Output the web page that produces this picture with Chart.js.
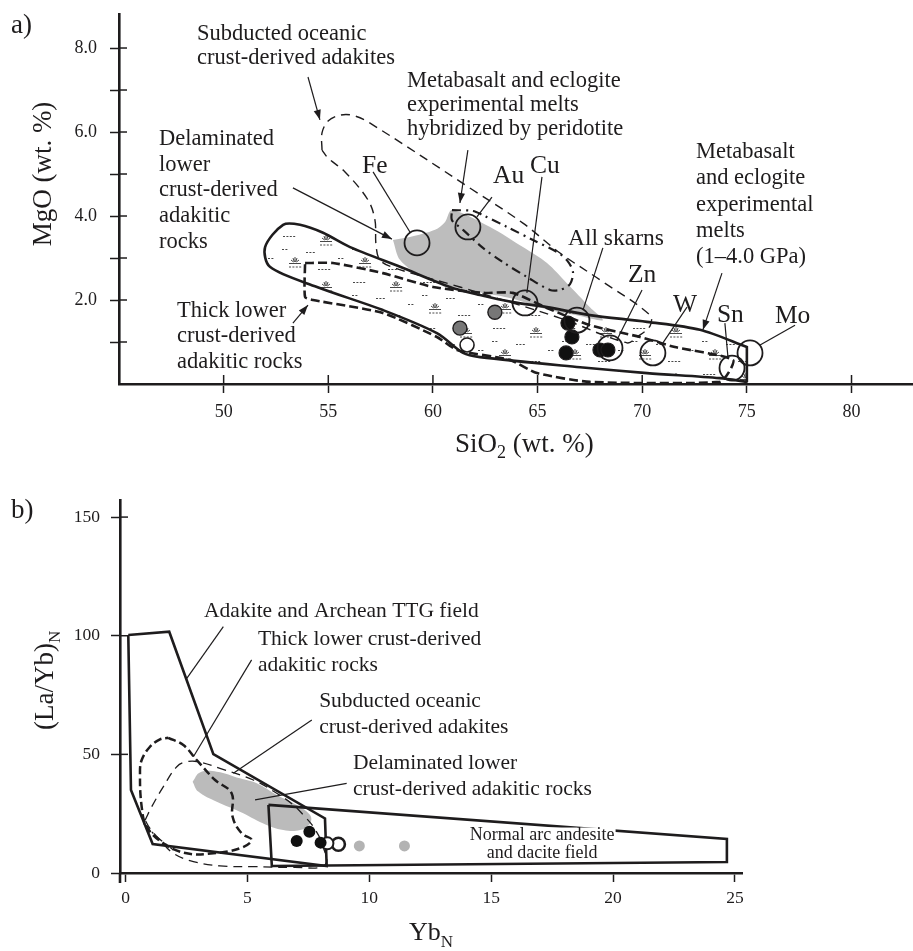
<!DOCTYPE html>
<html><head><meta charset="utf-8">
<script src="https://cdn.jsdelivr.net/npm/chart.js@4.4.1/dist/chart.umd.min.js"></script>
<style>html,body{margin:0;padding:0;background:#fff;}canvas{position:absolute;left:0;}</style>
</head><body>
<canvas id="ca" width="913" height="470" style="top:0px"></canvas>
<canvas id="cb" width="913" height="481" style="top:470px"></canvas>
<script>
// ================= Panel a) : MgO vs SiO2 =================
const aDepositNames = ['Fe','Au','Cu','All skarns','Zn','W','Sn','Mo'];
const aDepositSiO2 = [59.24,61.67,64.40,66.88,68.46,70.51,74.29,75.15];
const aDepositMgO  = [3.36,3.74,1.93,1.52,0.86,0.74,0.38,0.74];
const aBlackSiO2 = [66.45,66.64,66.36,67.98,68.36];
const aBlackMgO  = [1.45,1.12,0.74,0.81,0.81];
const aGraySiO2 = [62.96,61.29];
const aGrayMgO  = [1.71,1.33];
const aWhiteSiO2 = [61.63];
const aWhiteMgO  = [0.93];
// field outlines
const aSubductedSiO2 = [54.70,54.70,54.99,55.56,56.13,56.90,61.91,64.30,66.07,67.98,70.37,70.37,69.75,69.27,66.07,61.29,58.19,57.47,57.28,57.23,56.90,55.80,54.99,54.70];
const aSubductedMgO  = [5.57,5.98,6.26,6.40,6.40,6.24,4.62,3.83,3.12,2.48,1.64,1.38,1.12,0.98,1.57,2.31,2.76,2.95,3.31,3.90,4.38,5.05,5.38,5.57];
const aHybridSiO2 = [60.91,61.91,62.39,63.54,64.78,65.93,66.40,66.69,66.55,66.07,65.59,64.49,63.35,62.39,61.44,60.91,60.91];
const aHybridMgO  = [4.14,4.12,4.02,3.74,3.43,3.14,2.95,2.67,2.38,2.24,2.24,2.55,2.90,3.24,3.67,3.90,4.14];
const aThickSiO2 = [53.89,55.22,57.61,60.0,62.39,63.82,65.45,67.50,69.89,71.56,74.34,73.71,67.50,64.97,63.68,61.15,60.19,57.61,54.27,53.89,53.89];
const aThickMgO  = [2.88,2.88,2.64,2.31,2.17,2.17,1.81,1.40,1.12,0.88,0.57,0.05,0.05,0.26,0.57,0.81,1.12,1.69,2.0,2.07,2.88];
const aMeltSiO2 = [75.0,75.0,75.0,72.76,70.23,67.50,65.45,63.82,62.25,60.81,58.43,56.04,54.75,53.65,52.84,51.98,52.21,54.46,57.61,60.19,61.44,62.25,67.03,70.23,73.71,75.0,75.0];
const aMeltMgO  = [0.05,0.88,0.88,1.29,1.48,1.64,1.83,1.95,2.12,2.31,2.79,3.26,3.60,3.79,3.79,3.26,2.79,2.31,1.76,1.21,0.74,0.64,0.40,0.26,0.14,0.05,0.05];
const aDelamSiO2 = [58.09,58.43,59.52,61.63,63.68,65.59,67.03,68.12,67.50,66.40,65.45,64.30,62.73,60.91,60.58,60.10,58.90,58.09];
const aDelamMgO  = [3.43,2.95,2.55,2.24,2.05,1.76,1.62,1.52,1.83,2.40,2.88,3.26,3.74,4.14,3.86,3.67,3.50,3.43];
const aXTickStep = 5, aYTickStep = 1;

// ================= Panel b) : (La/Yb)N vs YbN =================
const bBlackYb = [7.02,7.54,8.0];
const bBlackLaYb = [13.5,17.4,12.8];
const bHalfYb = [8.28];
const bHalfLaYb = [12.5];
const bOpenYb = [8.73];
const bOpenLaYb = [12.1];
const bGrayYb = [9.59,11.44];
const bGrayLaYb = [11.4,11.4];
const bAdakiteYb = [0.11,1.79,3.60,8.18,8.25,1.11,0.22,0.11];
const bAdakiteLaYb = [100.3,101.7,50.1,23.0,2.95,12.2,35.0,100.3];
const bArcYb = [5.86,24.67,24.67,6.0,5.86];
const bArcLaYb = [28.7,14.3,4.6,2.95,28.7];
const bThickYb = [1.75,2.37,2.92,3.67,4.35,4.39,4.76,5.17,4.69,3.60,2.51,1.55,0.87,0.66,0.59,0.66,1.0,1.41,1.75];
const bThickLaYb = [57.0,53.9,47.6,39.2,33.6,23.7,16.7,13.9,10.4,8.3,8.3,12.5,19.5,27.9,42.0,47.6,53.2,56.3,57.0];
const bSubYb = [0.80,1.07,1.55,2.10,2.51,2.98,3.87,5.24,6.20,6.88,7.36,7.70,8.05,8.18,6.88,5.24,3.87,2.78,1.96,1.41,1.0,0.80];
const bSubLaYb = [22.3,27.9,36.4,44.8,46.9,46.9,44.1,39.2,33.6,28.7,23.7,19.5,12.5,3.4,2.4,2.7,3.0,4.8,8.3,13.9,18.8,22.3];
const bDelamYb = [2.75,3.05,3.74,4.69,5.38,6.20,7.02,7.57,7.57,7.16,6.47,5.65,4.69,3.74,2.98,2.75];
const bDelamLaYb = [38.5,42.4,42.7,39.9,37.8,32.9,28.7,24.4,20.9,18.1,18.1,20.9,25.8,30.0,34.3,38.5];
const bHybridYb = [0.73,1.28,1.96];
const bHybridLaYb = [20.9,15.3,9.7];
const bXTickStep = 5, bYTickStep = 50;

// ================= annotation text (anchors in data units) =================
const aNotes = [
  {lines:['Subducted oceanic','crust-derived adakites'], x:48.73, y:8.19, lh:24},
  {lines:['Metabasalt and eclogite','experimental melts','hybridized by peridotite'], x:58.76, y:7.07, lh:24},
  {lines:['Delaminated','lower','crust-derived','adakitic','rocks'], x:46.91, y:5.69, lh:25.7},
  {lines:['Thick lower','crust-derived','adakitic rocks'], x:47.77, y:1.60, lh:25.5},
  {lines:['Metabasalt','and eclogite','experimental','melts','(1–4.0 GPa)'], x:72.57, y:5.38, lh:26.3}
];
const aLabelX = [56.61,62.87,64.64,66.45,69.32,71.47,73.57,76.34];
const aLabelY = [5.02,4.79,5.02,3.31,2.43,1.71,1.48,1.45];
const aLeaders = [[57.14,5.05,58.90,3.62],[62.82,4.45,62.10,3.98],[65.21,4.93,64.49,2.17],[68.12,3.24,67.17,1.76],[69.99,2.24,68.79,1.05],[72.14,1.83,70.99,0.98],[73.95,1.45,74.10,0.62],[77.30,1.40,75.63,0.93]];
const aArrows = [[54.03,7.31,54.60,6.29],[61.67,5.57,61.29,4.31],[53.31,4.67,58.04,3.45],[53.31,1.45,54.03,1.88],[73.81,2.64,72.90,1.29]];

const bNotes = [
  {lines:['Adakite and Archean TTG field'], x:3.22, y:107.9, lh:26},
  {lines:['Thick lower crust-derived','adakitic rocks'], x:5.43, y:96.1, lh:26},
  {lines:['Subducted oceanic','crust-derived adakites'], x:7.94, y:70.0, lh:26},
  {lines:['Delaminated lower','crust-derived adakitic rocks'], x:9.33, y:43.8, lh:26}
];
const bArcNote = {lines:['Normal arc andesite','and dacite field'], x:17.09, y:13.9, lh:18};
const bLeaders = [[4.01,103.8,2.51,82.0],[5.17,89.8,2.78,49.0],[7.64,64.5,4.42,42.0],[9.07,37.8,5.31,30.8]];

// ================= helpers =================
const INK = '#1e1c1d';
const SERIF = '"Liberation Serif", "Times New Roman", serif';
const XY = (xs, ys) => xs.map((x, i) => ({x, y: ys[i]}));

function makeHatch() {
  const c = document.createElement('canvas');
  c.width = 70; c.height = 46;
  const g = c.getContext('2d');
  g.strokeStyle = '#333'; g.lineWidth = 0.9;
  const dashes = (x, y, n) => { for (let i = 0; i < n; i++) { g.beginPath(); g.moveTo(x + i*3.4, y + 0.5); g.lineTo(x + i*3.4 + 2, y + 0.5); g.stroke(); } };
  const tuft = (x, y) => {
    g.beginPath(); g.moveTo(x - 6, y + 0.5); g.lineTo(x + 6, y + 0.5); g.stroke();
    [[-4,-2.5],[-2,-4.5],[0,-5.5],[2,-4.5],[4,-2.5]].forEach(d => {
      g.beginPath(); g.moveTo(x + d[0]*0.35, y - 1); g.lineTo(x + d[0], y + d[1] - 0.5); g.stroke();
    });
    dashes(x - 6, y + 3.5, 4);
  };
  dashes(3, 6, 4); tuft(46, 11); dashes(26, 22, 3); dashes(58, 28, 2);
  tuft(15, 33); dashes(38, 39, 4); dashes(2, 19, 2);
  return g.createPattern(c, 'repeat');
}
const hatch = makeHatch();

function arrow(ctx, x1, y1, x2, y2) {
  ctx.beginPath(); ctx.moveTo(x1, y1); ctx.lineTo(x2, y2); ctx.stroke();
  const a = Math.atan2(y2 - y1, x2 - x1), L = 10, W = 3.6;
  ctx.beginPath(); ctx.moveTo(x2, y2);
  ctx.lineTo(x2 - L*Math.cos(a) + W*Math.sin(a), y2 - L*Math.sin(a) - W*Math.cos(a));
  ctx.lineTo(x2 - L*Math.cos(a) - W*Math.sin(a), y2 - L*Math.sin(a) + W*Math.cos(a));
  ctx.closePath(); ctx.fill();
}
function noteText(ctx, X, Y, n, size) {
  ctx.font = size + 'px ' + SERIF;
  ctx.textAlign = 'left'; ctx.textBaseline = 'alphabetic';
  n.lines.forEach((t, i) => ctx.fillText(t, X(n.x), Y(n.y) + i*n.lh));
}
const pointSet = (data, r, bg, bw, bc) => ({data, showLine:false, pointRadius:r, pointHoverRadius:r, pointBackgroundColor:bg, pointBorderColor:bc||INK, pointBorderWidth:bw, clip:false});
const field = (data, o) => Object.assign({data, showLine:true, pointRadius:0, pointHoverRadius:0, fill:false, borderColor:INK, clip:false}, o);

const noPad = s => { s.paddingTop = 0; s.paddingBottom = 0; s.paddingLeft = 0; s.paddingRight = 0; };
const axisBase = (min, max, step, size, pad, cb, hideVal) => ({
  type:'linear', min, max,
  border:{display:true, color:INK, width:2.6},
  grid:{drawOnChartArea:false, drawTicks:true, tickLength:9, tickWidth:1.5, color:(c)=> (c.tick && c.tick.value === hideVal) ? 'rgba(0,0,0,0)' : INK},
  ticks:{stepSize:step, includeBounds:false, autoSkip:false, maxRotation:0, padding:pad, color:INK, font:{family:SERIF, size}, callback:cb}
});

// ================= chart a =================
const overlayA = {
  id:'overlayA',
  afterDraw(chart) {
    const {ctx, chartArea:ca, scales:{x, y}} = chart;
    const X = v => x.getPixelForValue(v), Y = v => y.getPixelForValue(v);
    ctx.save();
    ctx.strokeStyle = INK; ctx.fillStyle = INK; ctx.lineWidth = 1.5;
    y.ticks.forEach(t => { if (t.value > 0) { ctx.beginPath(); ctx.moveTo(ca.left, Y(t.value)); ctx.lineTo(ca.left + 8, Y(t.value)); ctx.stroke(); } });
    x.ticks.forEach(t => { if (t.value > x.min) { ctx.beginPath(); ctx.moveTo(X(t.value), ca.bottom); ctx.lineTo(X(t.value), ca.bottom - 9); ctx.stroke(); } });
    ctx.lineWidth = 1.2;
    aLeaders.forEach(l => { ctx.beginPath(); ctx.moveTo(X(l[0]), Y(l[1])); ctx.lineTo(X(l[2]), Y(l[3])); ctx.stroke(); });
    aArrows.forEach(l => arrow(ctx, X(l[0]), Y(l[1]), X(l[2]), Y(l[3])));
    aNotes.forEach(n => noteText(ctx, X, Y, n, 22.5));
    aDepositNames.forEach((s, i) => {
      ctx.font = (s === 'All skarns' ? 23.5 : 25.5) + 'px ' + SERIF;
      ctx.fillText(s, X(aLabelX[i]), Y(aLabelY[i]));
    });
    ctx.font = '27px ' + SERIF; ctx.textBaseline = 'alphabetic';
    ctx.save(); ctx.translate(ca.left - 68, (ca.top + ca.bottom)/2 - 25); ctx.rotate(-Math.PI/2);
    ctx.textAlign = 'center'; ctx.fillText('MgO (wt. %)', 0, 0); ctx.restore();
    ctx.textAlign = 'left';
    let tx = 455, ty = 452;
    ctx.fillText('SiO', tx, ty); tx += ctx.measureText('SiO').width;
    ctx.font = '18px ' + SERIF; ctx.fillText('2', tx, ty + 6); tx += ctx.measureText('2').width;
    ctx.font = '27px ' + SERIF; ctx.fillText(' (wt. %)', tx, ty);
    ctx.fillText('a)', 11, 33);
    ctx.restore();
  }
};

new Chart(document.getElementById('ca'), {
  type:'line',
  data:{datasets:[
    pointSet(XY(aDepositSiO2, aDepositMgO), 12.5, 'rgba(0,0,0,0)', 1.8),
    pointSet(XY(aBlackSiO2, aBlackMgO), 7, '#101010', 1.2),
    pointSet(XY(aGraySiO2, aGrayMgO), 7, '#777777', 1.4),
    pointSet(XY(aWhiteSiO2, aWhiteMgO), 7, '#ffffff', 1.6),
    field(XY(aHybridSiO2, aHybridMgO), {borderWidth:2.2, borderDash:[9,5,2,5], tension:0.3}),
    field(XY(aSubductedSiO2, aSubductedMgO), {borderWidth:1.4, borderDash:[9,6], tension:0.35}),
    field(XY(aThickSiO2, aThickMgO), {borderWidth:2.6, borderDash:[9,4], tension:0.2}),
    field(XY(aMeltSiO2, aMeltMgO), {borderWidth:2.6, tension:0.3, fill:'shape', backgroundColor:hatch}),
    field(XY(aDelamSiO2, aDelamMgO), {borderWidth:0, borderColor:'rgba(0,0,0,0)', tension:0.3, fill:'shape', backgroundColor:'#bdbdbd'})
  ]},
  options:{
    responsive:false, animation:false, devicePixelRatio:1,
    layout:{autoPadding:false, padding:{top:14, right:1, left:0, bottom:0}},
    plugins:{legend:{display:false}, tooltip:{enabled:false}},
    events:[],
    scales:{
      x: Object.assign(axisBase(45, 82.89, aXTickStep, 18, 8, v => v === 45 ? '' : String(v), 45), {afterFit(s){ s.height = 86; noPad(s); }}),
      y: Object.assign(axisBase(0, 8.81, aYTickStep, 18, 13, v => (v > 0 && v % 2 === 0) ? v.toFixed(1) : '', 0), {afterFit(s){ s.width = 119; noPad(s); }})
    }
  },
  plugins:[overlayA]
});

// ================= chart b =================
const overlayB = {
  id:'overlayB',
  afterDraw(chart) {
    const {ctx, chartArea:ca, scales:{x, y}} = chart;
    const X = v => x.getPixelForValue(v), Y = v => y.getPixelForValue(v);
    ctx.save();
    ctx.strokeStyle = INK; ctx.fillStyle = INK; ctx.lineWidth = 1.5;
    y.ticks.forEach(t => { if (t.value > 0) { ctx.beginPath(); ctx.moveTo(ca.left, Y(t.value)); ctx.lineTo(ca.left + 8, Y(t.value)); ctx.stroke(); } });
    ctx.lineWidth = 2.6;
    ctx.beginPath(); ctx.moveTo(ca.left, ca.bottom); ctx.lineTo(ca.left, ca.bottom + 10); ctx.stroke();
    ctx.lineWidth = 1.2;
    bLeaders.forEach(l => { ctx.beginPath(); ctx.moveTo(X(l[0]), Y(l[1])); ctx.lineTo(X(l[2]), Y(l[3])); ctx.stroke(); });
    bNotes.forEach(n => noteText(ctx, X, Y, n, 21.5));
    ctx.font = '18px ' + SERIF; ctx.textAlign = 'center';
    bArcNote.lines.forEach((t, i) => {
      const w = ctx.measureText(t).width, cx = X(bArcNote.x), by = Y(bArcNote.y) + i*bArcNote.lh;
      if (i === 0) { ctx.fillStyle = '#fff'; ctx.fillRect(cx - w/2 - 1, by - 12.5, w + 2, 16); ctx.fillStyle = INK; }
      ctx.fillText(t, cx, by);
    });
    ctx.textAlign = 'left'; ctx.textBaseline = 'alphabetic';
    ctx.save(); ctx.translate(53, 260); ctx.rotate(-Math.PI/2);
    ctx.font = '27px ' + SERIF; ctx.fillText('(La/Yb)', 0, 0);
    const w = ctx.measureText('(La/Yb)').width;
    ctx.font = '17px ' + SERIF; ctx.fillText('N', w, 7);
    ctx.restore();
    ctx.font = '26px ' + SERIF; ctx.fillText('Yb', 409, 470);
    const w2 = ctx.measureText('Yb').width;
    ctx.font = '17px ' + SERIF; ctx.fillText('N', 409 + w2, 477);
    ctx.font = '27px ' + SERIF; ctx.fillText('b)', 11, 48);
    ctx.restore();
  }
};

new Chart(document.getElementById('cb'), {
  type:'line',
  data:{datasets:[
    pointSet(XY(bBlackYb, bBlackLaYb), 6, '#101010', 0),
    pointSet(XY(bHalfYb, bHalfLaYb), 6, '#ffffff', 2),
    pointSet(XY(bOpenYb, bOpenLaYb), 6.5, '#ffffff', 2.6),
    pointSet(XY(bGrayYb, bGrayLaYb), 5.5, '#b3b3b3', 0, 'rgba(0,0,0,0)'),
    field(XY(bHybridYb, bHybridLaYb), {borderWidth:1.3, borderDash:[8,4,2,4], tension:0.3}),
    field(XY(bAdakiteYb, bAdakiteLaYb), {borderWidth:2.6, tension:0}),
    field(XY(bArcYb, bArcLaYb), {borderWidth:2.6, tension:0}),
    field(XY(bThickYb, bThickLaYb), {borderWidth:2.5, borderDash:[8,4], tension:0.4}),
    field(XY(bSubYb, bSubLaYb), {borderWidth:1.3, borderDash:[9,6], tension:0.4}),
    field(XY(bDelamYb, bDelamLaYb), {borderWidth:0, borderColor:'rgba(0,0,0,0)', tension:0.4, fill:'shape', backgroundColor:'#bbbbbb'})
  ]},
  options:{
    responsive:false, animation:false, devicePixelRatio:1,
    layout:{autoPadding:false, padding:{top:30, right:171, left:0, bottom:0}},
    plugins:{legend:{display:false}, tooltip:{enabled:false}},
    events:[],
    scales:{
      x: Object.assign(axisBase(-0.23, 25.29, bXTickStep, 17.5, 6, v => String(v), null), {afterFit(s){ s.height = 78; noPad(s); }}),
      y: Object.assign(axisBase(0, 157.2, bYTickStep, 17.5, 11, v => String(v), null), {afterFit(s){ s.width = 120; noPad(s); }})
    }
  },
  plugins:[overlayB]
});
</script>
</body></html>
